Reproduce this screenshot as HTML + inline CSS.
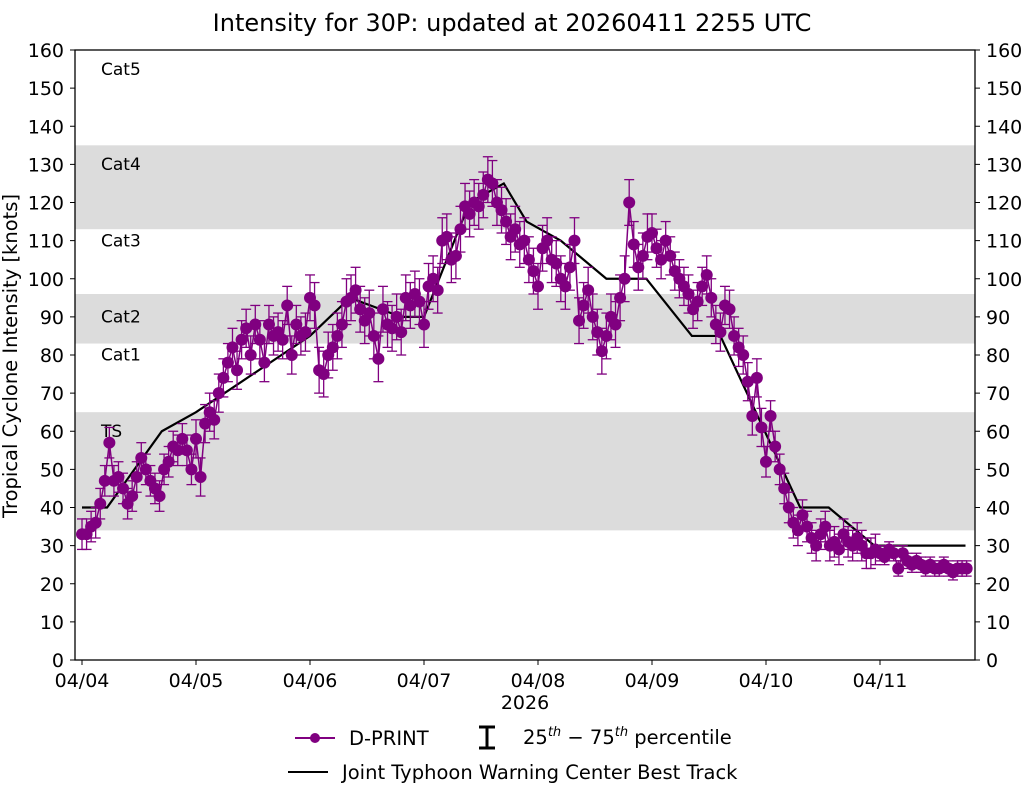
<!DOCTYPE html>
<html><head><meta charset="utf-8"><style>
body{margin:0;background:#fff;}
svg{font-family:"DejaVu Sans","Liberation Sans",sans-serif;}
</style></head><body>
<svg id="chart" width="1025" height="785" xmlns="http://www.w3.org/2000/svg">
<rect width="1025" height="785" fill="#fff"/>
<g id="bands"></g><g id="marks"></g><g id="axes"></g>
<text x="512" y="31" text-anchor="middle" font-size="24">Intensity for 30P: updated at 20260411 2255 UTC</text>
<text transform="translate(17,356) rotate(-90)" text-anchor="middle" font-size="19.5">Tropical Cyclone Intensity [knots]</text>
<text x="525" y="709" text-anchor="middle" font-size="19">2026</text>
<g font-size="19.5">
<line x1="295" y1="738" x2="335" y2="738" stroke="#800080" stroke-width="2"/>
<circle cx="315" cy="738" r="5" fill="#800080"/>
<text x="349" y="745">D-PRINT</text>
<line x1="487" y1="727" x2="487" y2="748" stroke="#000" stroke-width="3"/>
<line x1="479" y1="727" x2="495" y2="727" stroke="#000" stroke-width="3"/>
<line x1="479" y1="748" x2="495" y2="748" stroke="#000" stroke-width="3"/>
<text x="523" y="744">25<tspan font-size="13" dy="-8" font-style="italic">th</tspan><tspan dy="8"> − 75</tspan><tspan font-size="13" dy="-8" font-style="italic">th</tspan><tspan dy="8"> percentile</tspan></text>
<line x1="288" y1="772" x2="328" y2="772" stroke="#000" stroke-width="2"/>
<text x="342" y="779">Joint Typhoon Warning Center Best Track</text>
</g>
</svg>
<script>
const dayLabels=["04/04","04/05","04/06","04/07","04/08","04/09","04/10","04/11"];
const yTicks=[0,10,20,30,40,50,60,70,80,90,100,110,120,130,140,150,160];
const bandRanges=[[34,65],[83,96],[113,135]];
const catLabels=["TS","Cat1","Cat2","Cat3","Cat4","Cat5"];
const catValues=[58.5,78.5,88.5,108.5,128.5,153.5];
const bestDays=[0,0.22,0.7,1,2,2.35,2.8,3,3.4,3.7,3.9,4.2,4.6,4.95,5.35,5.6,6.3,6.55,6.95,7.75];
const bestVals=[40,40,60,65,85,95,90,90,120,125,115,110,100,100,85,85,40,40,30,30];
const dprint=[33,33,35,36,41,47,57,47,48,45,41,43,48,53,50,47,45,43,50,52,56,55,58,55,50,
58,48,62,65,63,70,74,78,82,76,84,87,80,88,84,78,88,85,86,84,93,80,88,85,86,
95,93,76,75,80,82,85,88,94,95,97,92,89,91,85,79,92,88,87,90,86,95,93,96,94,
88,98,100,97,110,111,105,106,113,119,117,120,119,122,126,125,120,118,115,111,113,109,110,105,102,
98,108,110,105,104,100,98,103,110,89,93,97,90,86,81,85,90,88,95,100,120,109,103,106,111,
112,108,105,110,106,102,100,98,96,92,94,98,101,95,88,86,93,92,85,82,80,73,64,74,61,
52,64,56,50,45,40,36,34,38,35,32,30,33,35,30,31,29,33,31,30,32,30,28,28,29,
28,27,29,28,24,28,26,25,26,25,24,25,24,24,25,24,23,24,24,24];
const errByDay=[4,5,6,6,6,5,4,2];
const stepDays=0.04;
const NS="http://www.w3.org/2000/svg";
const X0=75,X1=975,Y0=660,Y1=50;
const xs=d=>82+d*114;
const ys=v=>Y0-(v/160)*(Y0-Y1);
function mk(tag,attrs,parent){const e=document.createElementNS(NS,tag);for(const k in attrs)e.setAttribute(k,attrs[k]);parent.appendChild(e);return e;}
const bands=document.getElementById('bands'),marks=document.getElementById('marks'),axes=document.getElementById('axes');
bandRanges.forEach(r=>{const e=mk('rect',{x:X0,y:ys(r[1]),width:X1-X0,height:ys(r[0])-ys(r[1]),fill:'#dcdcdc'},bands);

});
catLabels.forEach((c,i)=>{const t=mk('text',{x:101,y:ys(catValues[i]),'font-size':17},bands);t.textContent=c;

});
const bp=mk('polyline',{points:bestDays.map((d,i)=>xs(d)+','+ys(bestVals[i])).join(' '),fill:'none',stroke:'#000','stroke-width':2.2},marks);


const pts=dprint.map((v,i)=>[xs(i*stepDays),v,Math.floor(i*stepDays)]);
const dl=mk('polyline',{points:pts.map(p=>p[0]+','+ys(p[1])).join(' '),fill:'none',stroke:'#800080','stroke-width':1.5},marks);


pts.forEach(p=>{const e=errByDay[Math.min(p[2],7)];const x=p[0];const a=ys(p[1]+e),b=ys(p[1]-e);
const g=mk('g',{stroke:'#800080','stroke-width':1.3},marks);


mk('line',{x1:x,x2:x,y1:a,y2:b},g);mk('line',{x1:x-5,x2:x+5,y1:a,y2:a},g);mk('line',{x1:x-5,x2:x+5,y1:b,y2:b},g);});
pts.forEach(p=>{const c=mk('circle',{cx:p[0],cy:ys(p[1]),r:6,fill:'#800080'},marks);

});
const fr=mk('rect',{x:X0,y:Y1,width:X1-X0,height:Y0-Y1,fill:'none',stroke:'#000','stroke-width':1.3},axes);


yTicks.forEach(v=>{const y=ys(v);mk('line',{x1:X0-5,x2:X0,y1:y,y2:y,stroke:'#000'},axes);mk('line',{x1:X1,x2:X1+5,y1:y,y2:y,stroke:'#000'},axes);
const t=mk('text',{x:X0-11,y:y+7,'text-anchor':'end','font-size':19},axes);t.textContent=v;


const t2=mk('text',{x:X1+11,y:y+7,'font-size':19},axes);t2.textContent=v;

});
dayLabels.forEach((d,i)=>{const x=xs(i);mk('line',{x1:x,x2:x,y1:Y0,y2:Y0+5,stroke:'#000'},axes);
const t=mk('text',{x:x,y:Y0+27,'text-anchor':'middle','font-size':19},axes);t.textContent=d;

});
</script>
</body></html>
